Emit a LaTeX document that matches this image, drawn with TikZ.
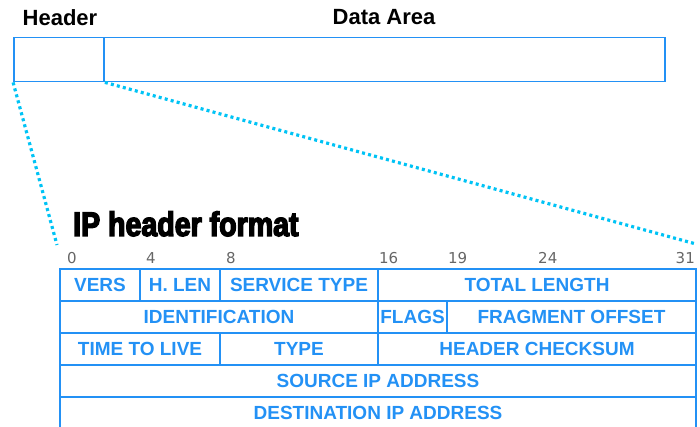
\documentclass[tikz,border=0pt]{standalone}
\usepackage{fontspec}
\setmainfont{Liberation Sans}
\newfontfamily\digitfont{DejaVu Sans}
\newfontfamily\titlefont[FakeStretch=0.84,FakeBold=4]{Liberation Sans Bold}
\definecolor{ipblue}{RGB}{35,145,245}
\definecolor{dotblue}{RGB}{0,195,245}
\tikzset{
  field/.style={draw=ipblue, line width=1.8pt, text=ipblue, inner sep=0pt,
    minimum height=32, font=\fontsize{19}{21}\selectfont\bfseries},
  area/.style={draw=ipblue, line width=1.8pt, inner sep=0pt, minimum height=44},
  caption/.style={font=\fontsize{22}{24}\selectfont\bfseries, anchor=base},
  bitno/.style={text=black!60, inner sep=0pt, font=\fontsize{15}{17}\selectfont\digitfont},
  zoomline/.style={dotblue, line width=3.2pt, dash pattern=on 3pt off 3.2pt}
}
\begin{document}
\begin{tikzpicture}[x=1pt, y=-1pt]
	\useasboundingbox (0,0) rectangle (700,427);
	\clip (0,0) rectangle (700,427);
	% datagram: header and data area
	\node[area, minimum width=90] (hdr) at (59,59.5) {};
	\node[area, minimum width=561] (data) at (384.5,59.5) {};
	\node[caption] (hdrlbl) at (60,26) {Header};
	\node[caption] (datalbl) at (384,25) {Data Area};
	% zoom into the header
	\coordinate (fmtL) at (57,245);
	\coordinate (fmtR) at (696,244);
	\draw[zoomline] (hdr.south west) -- (fmtL);
	\draw[zoomline] (hdr.south east) -- (fmtR);
	\node[anchor=base west, inner sep=0pt, font=\fontsize{34}{36}\selectfont\titlefont] (title) at (73,236) {IP header format};
	% bit positions
	\foreach \x/\b in {67/0, 146/4, 226/8, 379/16, 448/19, 538/24} {
		\node[bitno, anchor=base west] (bit\b) at (\x,263) {\b};
	}
	\node[bitno, anchor=base east] (bit31) at (695,263) {31};
	% header fields: left/right/row/name/text
	\foreach \xa/\xb/\row/\name/\txt in {
			60/140/1/vers/VERS,
			140/220/1/hlen/H. LEN,
			220/378/1/tos/SERVICE TYPE,
			378/696/1/tlen/TOTAL LENGTH,
			60/378/2/ident/IDENTIFICATION,
			378/447/2/flags/FLAGS,
			447/696/2/frag/FRAGMENT OFFSET,
			60/220/3/ttl/TIME TO LIVE,
			220/378/3/proto/TYPE,
			378/696/3/csum/HEADER CHECKSUM,
			60/696/4/src/SOURCE IP ADDRESS,
			60/696/5/dst/DESTINATION IP ADDRESS
		} {
			\node[field, minimum width={\xb-\xa}] (\name) at ({(\xa+\xb)/2},{253+32*\row}) {\txt};
		}
\end{tikzpicture}
\end{document}
